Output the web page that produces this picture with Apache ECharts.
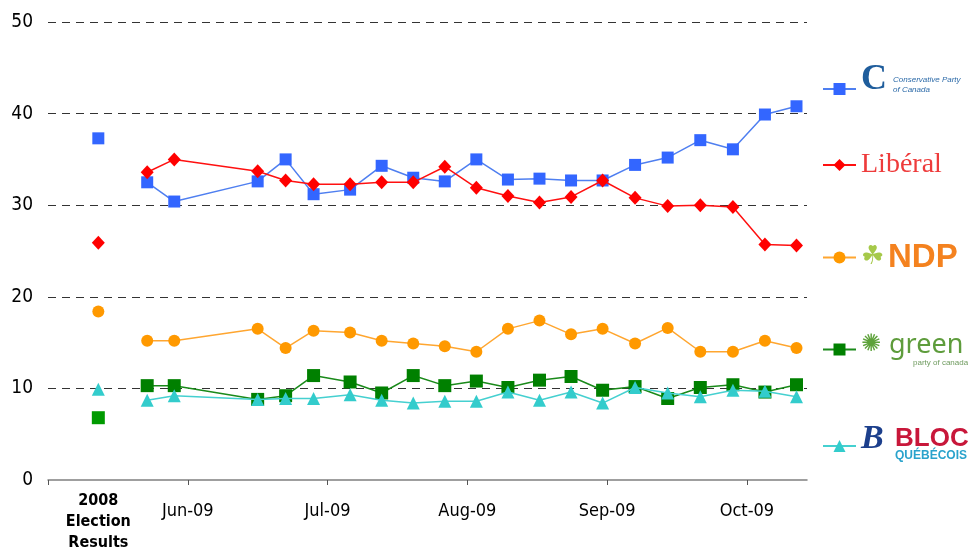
<!DOCTYPE html>
<html>
<head>
<meta charset="utf-8">
<title>Federal voting intention 2009</title>
<script src="https://cdn.jsdelivr.net/npm/echarts@6/dist/echarts.min.js"></script>
<style>
    html, body { margin: 0; padding: 0; background: #fff; }
    #main { width: 968px; height: 553px; }
</style>
</head>
<body>
<div id="main"></div>
<script>
// poll dates (weekly-ish)
var pollDates = ['2009-05-23', '2009-05-29', '2009-06-16', '2009-06-22', '2009-06-28',
    '2009-07-06', '2009-07-13', '2009-07-20', '2009-07-27', '2009-08-03',
    '2009-08-10', '2009-08-17', '2009-08-24', '2009-08-31', '2009-09-07',
    '2009-09-14', '2009-09-21', '2009-09-28', '2009-10-05', '2009-10-12'];

var conservative = [32.5, 30.4, 32.6, 35.0, 31.2, 31.7, 34.3, 33.0, 32.6, 35.0, 32.8, 32.9, 32.7, 32.7, 34.4, 35.2, 37.1, 36.1, 39.9, 40.8];
var liberal      = [33.6, 35.0, 33.7, 32.7, 32.3, 32.3, 32.5, 32.5, 34.2, 31.9, 31.0, 30.3, 30.9, 32.7, 30.8, 29.9, 30.0, 29.8, 25.7, 25.6];
var ndp          = [15.2, 15.2, 16.5, 14.4, 16.3, 16.1, 15.2, 14.9, 14.6, 14.0, 16.5, 17.4, 15.9, 16.5, 14.9, 16.6, 14.0, 14.0, 15.2, 14.4];
var green        = [10.3, 10.3, 8.8, 9.2, 11.4, 10.7, 9.5, 11.4, 10.3, 10.8, 10.1, 10.9, 11.3, 9.8, 10.2, 8.9, 10.1, 10.4, 9.6, 10.4];
var bloc         = [8.7, 9.2, 8.8, 8.9, 8.9, 9.3, 8.7, 8.4, 8.6, 8.6, 9.6, 8.7, 9.6, 8.4, 10.1, 9.5, 9.1, 9.8, 9.7, 9.1];

// 2008 election results: Conservative, Liberal, NDP, Green, Bloc
var electionResults = [37.3, 25.9, 18.4, 6.8, 9.9];

var partyNames = ['Conservative', 'Liberal', 'NDP', 'Green', 'Bloc'];
var monthLabels = ['Jun-09', 'Jul-09', 'Aug-09', 'Sep-09', 'Oct-09'];
var electionLabel = '2008\nElection\nResults';
var electionSlot = 0.36;   // where the election column sits, in months from May 1

// month units from 1 May 2009
function monthPos(s) {
    var p = s.split('-');
    var m = +p[1], d = +p[2];
    var days = new Date(+p[0], m, 0).getDate();
    return (m - 5) + (d - 1) / days;
}

function pairs(values) {
    return pollDates.map(function (d, i) { return [monthPos(d), values[i]]; });
}

var styles = [
    { line: '#4f7ff0', item: '#3366ff', vote: '#3366ff', symbol: 'rect', size: 12 },
    { line: '#ff1010', item: '#ff0000', vote: '#ff0000', symbol: 'diamond', size: [13, 14] },
    { line: '#ffa630', item: '#ff9900', vote: '#ff9900', symbol: 'circle', size: 12 },
    { line: '#1a8a1a', item: '#008000', vote: '#009a00', symbol: 'rect', size: 13 },
    { line: '#45d0d0', item: '#33cccc', vote: '#33cccc', symbol: 'triangle', size: 13 }
];
var seriesValues = [conservative, liberal, ndp, green, bloc];

var series = [];
partyNames.forEach(function (name, i) {
    var st = styles[i];
    series.push({
        name: name,
        type: 'line',
        data: pairs(seriesValues[i]),
        symbol: st.symbol,
        symbolSize: st.size,
        showAllSymbol: true,
        lineStyle: { color: st.line, width: 1.5 },
        itemStyle: { color: st.item },
        z: 2 + i
    });
});
partyNames.forEach(function (name, i) {
    var st = styles[i];
    series.push({
        name: name,
        type: 'scatter',
        data: [[electionSlot, electionResults[i]]],
        symbol: st.symbol,
        symbolSize: st.size,
        itemStyle: { color: st.vote, opacity: 1 },
        z: 2 + i
    });
});

// logos drawn as styled text
var legendTexts = {
    Conservative: '{cLogo|C}{cTxt|Conservative Party}\n{cPad|}{cTxt|of Canada}\n{gap|}',
    Liberal: '{lTxt|Libéral}',
    NDP: '{nLeaf|☘}{nTxt|NDP}',
    Green: '{gLogo|✺}{gTxt|green}\n{gPad|}{gSub|party of canada}',
    Bloc: '{bLogo|B}{bTxt|BLOC}\n{bPad|}{bSub|QUÉBÉCOIS}'
};
var legendRich = {
    cLogo: { fontFamily: 'Liberation Serif', fontWeight: 'bold', fontSize: 36, color: '#1f5d9c', lineHeight: 10, width: 32 },
    cTxt: { fontFamily: 'Liberation Sans', fontStyle: 'italic', fontSize: 8, color: '#2c6aa8', lineHeight: 9 },
    cPad: { width: 32, lineHeight: 9 },
    gap: { lineHeight: 9 },
    lTxt: { fontFamily: 'Liberation Serif', fontSize: 28, color: '#ee3b3b', lineHeight: 32 },
    nLeaf: { fontFamily: 'DejaVu Sans', fontSize: 26, color: '#a6c94a', lineHeight: 32, width: 27 },
    nTxt: { fontFamily: 'Liberation Sans', fontWeight: 'bold', fontSize: 33, color: '#f4821f', lineHeight: 32 },
    gLogo: { fontFamily: 'DejaVu Sans', fontSize: 24, color: '#5da23a', lineHeight: 26, width: 28 },
    gTxt: { fontFamily: 'Noto Sans', fontSize: 27, color: '#5e9c3c', lineHeight: 26 },
    gPad: { width: 52, lineHeight: 9 },
    gSub: { fontFamily: 'Liberation Sans', fontSize: 8, color: '#6f9b5f', lineHeight: 9 },
    bLogo: { fontFamily: 'Liberation Serif', fontWeight: 'bold', fontStyle: 'italic', fontSize: 34, color: '#1c3f8c', lineHeight: 20, width: 34 },
    bTxt: { fontFamily: 'Liberation Sans', fontWeight: 'bold', fontSize: 26, color: '#c8173a', lineHeight: 20 },
    bPad: { width: 34, lineHeight: 14 },
    bSub: { fontFamily: 'Liberation Sans', fontWeight: 'bold', fontSize: 12, color: '#2aa3cc', lineHeight: 14 }
};
var legendCenters = [76, 167, 257, 349, 439];
var legendHeights = [28, 32, 32, 35, 34];

var legends = partyNames.map(function (name, i) {
    return {
        data: [name],
        left: 822,
        top: legendCenters[i] - legendHeights[i] / 2,
        padding: 0,
        itemWidth: 33,
        itemHeight: 15,
        itemGap: 0,
        selectedMode: false,
        formatter: function (n) { return legendTexts[n]; },
        textStyle: { rich: legendRich }
    };
});

var tickFont = "'DejaVu Sans Condensed', 'DejaVu Sans', sans-serif";

var chart = echarts.init(document.getElementById('main'));
chart.setOption({
    animation: false,
    backgroundColor: '#ffffff',
    legend: legends,
    grid: { left: 48, right: 161, top: 22, bottom: 73 },
    xAxis: {
        type: 'value',
        min: 0,
        max: 5.43,
        interval: 1,
        axisLine: { show: true, lineStyle: { color: '#808080', width: 1.5 } },
        axisTick: { show: true, length: 5, lineStyle: { color: '#555' }, customValues: [0, 1, 2, 3, 4, 5] },
        axisLabel: {
            customValues: [electionSlot, 1, 2, 3, 4, 5],
            margin: 10,
            formatter: function (v) {
                if (Math.abs(v - electionSlot) < 0.01) {
                    return electionLabel.split('\n').map(function (s) { return '{b|' + s + '}'; }).join('\n');
                }
                return '{m|' + monthLabels[Math.round(v) - 1] + '}';
            },
            rich: {
                b: { fontFamily: tickFont, fontWeight: 'bold', fontSize: 16, color: '#000', lineHeight: 21 },
                m: { fontFamily: tickFont, fontSize: 18, color: '#000', lineHeight: 43 }
            }
        },
        splitLine: { show: false }
    },
    yAxis: {
        type: 'value',
        min: 0,
        max: 50,
        interval: 10,
        axisLine: { show: false },
        axisTick: { show: false },
        axisLabel: { fontFamily: tickFont, fontSize: 19, color: '#000', margin: 15 },
        splitLine: { showMinLine: false, lineStyle: { color: '#333', type: [8, 6], width: 1 } }
    },
    series: series
});
</script>
</body>
</html>
